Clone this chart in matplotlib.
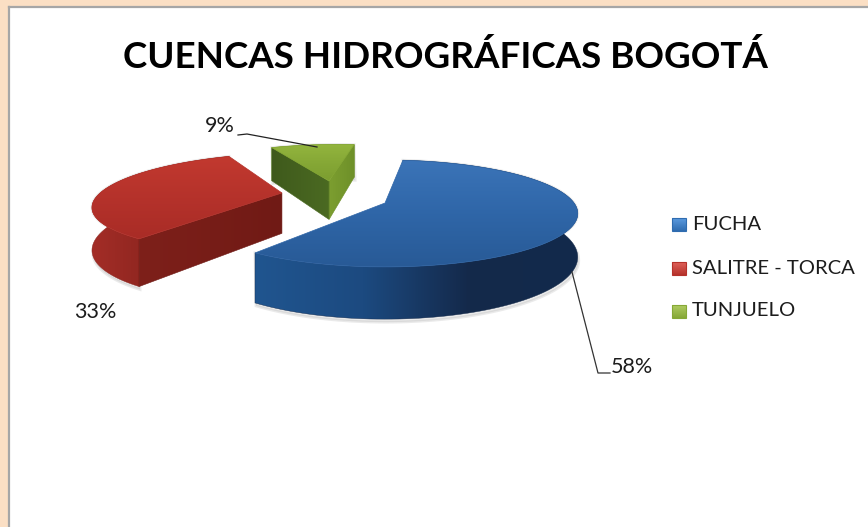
"""Exploded 3D pie: cuencas hidrograficas Bogota."""
import matplotlib
matplotlib.use("Agg")
import matplotlib.pyplot as plt
from matplotlib.colors import LinearSegmentedColormap
from matplotlib.patches import Polygon, Rectangle
import numpy as np

TITLE = "CUENCAS HIDROGRÁFICAS BOGOTÁ"
CATEGORIES = ["FUCHA", "SALITRE - TORCA", "TUNJUELO"]
VALUES = [58, 33, 9]

W, H = 868, 527
PEACH = "#FBDFC4"
TXT = "#1c1c1c"
plt.rcParams["font.family"] = ["Lato", "DejaVu Sans"]

# projection of the pie plane (pixels)
CX, CY = 385, 203
SX, SY, KP = 189, 51.4, 0.196
THICK = 42
START = 83.5
# explode offset of each slice, in pie radii
OFFSETS = [(0, 0), (-0.567, 0.203), (-0.323, 0.467)]

STYLES = [
    {"top": ["#3B74B8", "#2F66A8", "#285A96"], "wall": ["#20558F", "#1C4A80", "#14294A", "#122A4C"],
     "cut": ["#1E4A80", "#1E4A80"], "hi": "#33689F", "legend": ["#5C9BE0", "#2F6CB0"]},
    {"top": ["#C2392F", "#B5322B", "#A92C26"], "wall": ["#A32D27", "#8A241E", "#7A1D18"],
     "cut": ["#7E201A", "#701A15"], "hi": "#B5322B", "legend": ["#E0625A", "#B5322B"]},
    {"top": ["#93B53E", "#86A836", "#7C9E30"], "wall": ["#7C9E30", "#6E9029"],
     "cut": ["#3F5A1C", "#4B6A22"], "hi": "#8CAE3A", "legend": ["#B0CC62", "#86A836"]},
]


def project(X, Y, Z=0.0):
    w = 1 + KP * Y
    return CX + SX * X / w, CY - SY * Y / w - THICK * Z / w


def grad_fill(ax, verts, cols, vertical=True, edge=None, lw=0.8, zorder=2):
    verts = np.asarray(verts)
    x0, x1 = verts[:, 0].min(), verts[:, 0].max()
    y0, y1 = verts[:, 1].min(), verts[:, 1].max()
    cmap = LinearSegmentedColormap.from_list("g", cols)
    ramp = np.linspace(0, 1, 128)
    img = ramp[:, None] if vertical else ramp[None, :]
    im = ax.imshow(img, cmap=cmap, extent=(x0, x1, y1, y0), aspect="auto",
                   interpolation="bilinear", zorder=zorder)
    clip = Polygon(verts, closed=True, transform=ax.transData)
    im.set_clip_path(clip)
    # soften the hard clip edge
    ax.add_patch(Polygon(verts, closed=True, fill=False, edgecolor=edge or cols[len(cols) // 2],
                         linewidth=lw, zorder=zorder + 0.01))


fig = plt.figure(figsize=(W / 100, H / 100), dpi=100)
fig.patch.set_facecolor("white")
ax = fig.add_axes([0, 0, 1, 1])
ax.axis("off")

# chart frame
ax.add_patch(Rectangle((0, 0), W, 6, color=PEACH, lw=0, zorder=0))
ax.add_patch(Rectangle((0, 0), 8, H, color=PEACH, lw=0, zorder=0))
ax.plot([9, 9], [H, 7], color="#A6A6A6", lw=1.6, zorder=1)
ax.plot([9, W], [7, 7], color="#A6A6A6", lw=1.6, zorder=1)

angles = [START]
for v in VALUES:
    angles.append(angles[-1] - 360 * v / sum(VALUES))

# green and red sit behind the blue slice
for i in [2, 1, 0]:
    a = np.radians(np.linspace(angles[i], angles[i + 1], 120))
    ox, oy = OFFSETS[i]
    st = STYLES[i]
    ax_x, ax_y = ox + np.cos(a), oy + np.sin(a)
    top = np.column_stack(project(ax_x, ax_y))
    bot = np.column_stack(project(ax_x, ax_y, -1))
    apex = np.array(project(ox, oy))
    apex_b = np.array(project(ox, oy, -1))
    mid_arc = top[len(top) // 2]

    # soft shadow under the wall
    shadow = np.vstack([top, (bot + [1, 3])[::-1]])
    ax.add_patch(Polygon(shadow, closed=True, color="#9A9A9A", alpha=0.2, lw=2, zorder=1.5 + 0.1 * (2 - i)))

    z = 2 + (2 - i)
    grad_fill(ax, np.vstack([top, bot[::-1]]), st["wall"], vertical=False, lw=0.3, zorder=z)

    for end, end_b in [(top[0], bot[0]), (top[-1], bot[-1])]:
        # a cut face shows only if the top face lies above its edge
        dx = end[0] - apex[0]
        line_y = apex[1] + (end[1] - apex[1]) * (mid_arc[0] - apex[0]) / (dx if abs(dx) > 1e-6 else 1e-6)
        if mid_arc[1] < line_y:
            cols = st["cut"] if end[0] < apex[0] else st["wall"]
            grad_fill(ax, [apex, end, end_b, apex_b], cols, vertical=False, lw=0.4, zorder=z + 0.1)

    grad_fill(ax, np.vstack([apex, top]), st["top"], lw=0.5, zorder=z + 0.2)

ax.set_xlim(0, W)
ax.set_ylim(H, 0)

ax.text(445.5, 57, TITLE, ha="center", va="center", fontsize=26.5, fontweight="bold", color="black", zorder=8)

# data labels with leader lines
lab = [f"{v}%" for v in VALUES]
ax.text(632, 367, lab[0], ha="center", va="center", fontsize=15.5, color=TXT, zorder=8)
ax.text(95, 312, lab[1], ha="center", va="center", fontsize=15.5, color=TXT, zorder=8)
ax.text(220, 126, lab[2], ha="center", va="center", fontsize=15.5, color=TXT, zorder=8)
ax.plot([572, 598, 610], [272, 373, 373], color="#333333", lw=0.9, zorder=7)
ax.plot([238, 247, 317], [135, 134, 147], color="#222222", lw=0.9, zorder=7)

# legend
for name, st, y in zip(CATEGORIES, STYLES, [224, 268, 311]):
    grad_fill(ax, [(672, y - 6), (686, y - 6), (686, y + 7), (672, y + 7)], st["legend"], zorder=7)
    ax.text(692, y, name, ha="left", va="center", fontsize=14.6, color=TXT, zorder=8)

ax.set_xlim(0, W)
ax.set_ylim(H, 0)
fig.savefig("out.png", dpi=100, facecolor="white")
plt.close(fig)
